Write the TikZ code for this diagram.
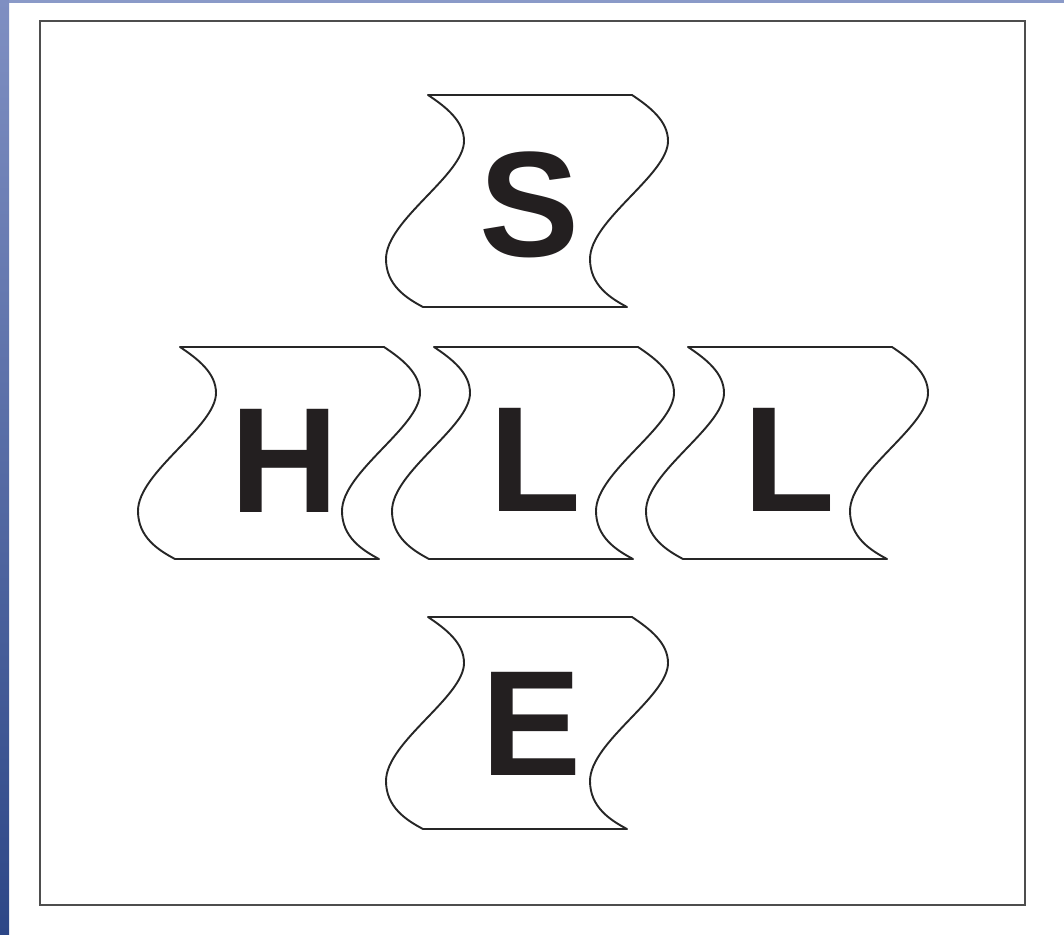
\documentclass[tikz,border=0pt]{standalone}
\usepackage{fontspec}
\setmainfont{Liberation Sans}
\definecolor{stripA}{HTML}{7F8FC2}
\definecolor{stripB}{HTML}{2D4787}
\definecolor{topstrip}{HTML}{8A9AC8}
\definecolor{frameC}{HTML}{4E4E4E}
\definecolor{inkC}{HTML}{231F20}
\begin{document}
\begin{tikzpicture}[x=1pt,y=-1pt,
  tileshape/.style={draw=black!85, line width=1.9pt, fill=white, line join=round},
  letter/.style={font=\fontsize{150}{150}\selectfont\bfseries, text=inkC, inner sep=0pt, anchor=base},
  frame/.style={draw=frameC, line width=2pt},
  tile/.pic={\path[tileshape] (0,0) -- (204,0)
      .. controls (222,12) and (240,26) .. (240,46)
      .. controls (240,80) and (162,125) .. (162,164)
      .. controls (162,190) and (182,203) .. (199,212)
      -- (-5,212)
      .. controls (-22,203) and (-42,190) .. (-42,164)
      .. controls (-42,125) and (36,80) .. (36,46)
      .. controls (36,26) and (18,12) .. cycle;}
]
\useasboundingbox (0,0) rectangle (1064,934);
\fill[white] (0,0) rectangle (1064,934);
% background strips
\fill[topstrip] (0,0) rectangle (1064,3);
\shade[top color=stripA, bottom color=stripB] (0,0) rectangle (9,934);
% frame
\draw[frame] (40,21) rectangle (1025,905);
% tiles
\pic (tS) at (428,95) {tile};
\pic (tH) at (180,347) {tile};
\pic (tL1) at (434,347) {tile};
\pic (tL2) at (688,347) {tile};
\pic (tE) at (428,617) {tile};
% letters
\node[letter] (S) at (530,256) {S};
\node[letter] (H) at (285,512) {H};
\node[letter] (L1) at (535,511) {L};
\node[letter] (L2) at (789,511) {L};
\node[letter] (E) at (532,775) {E};
\end{tikzpicture}
\end{document}
